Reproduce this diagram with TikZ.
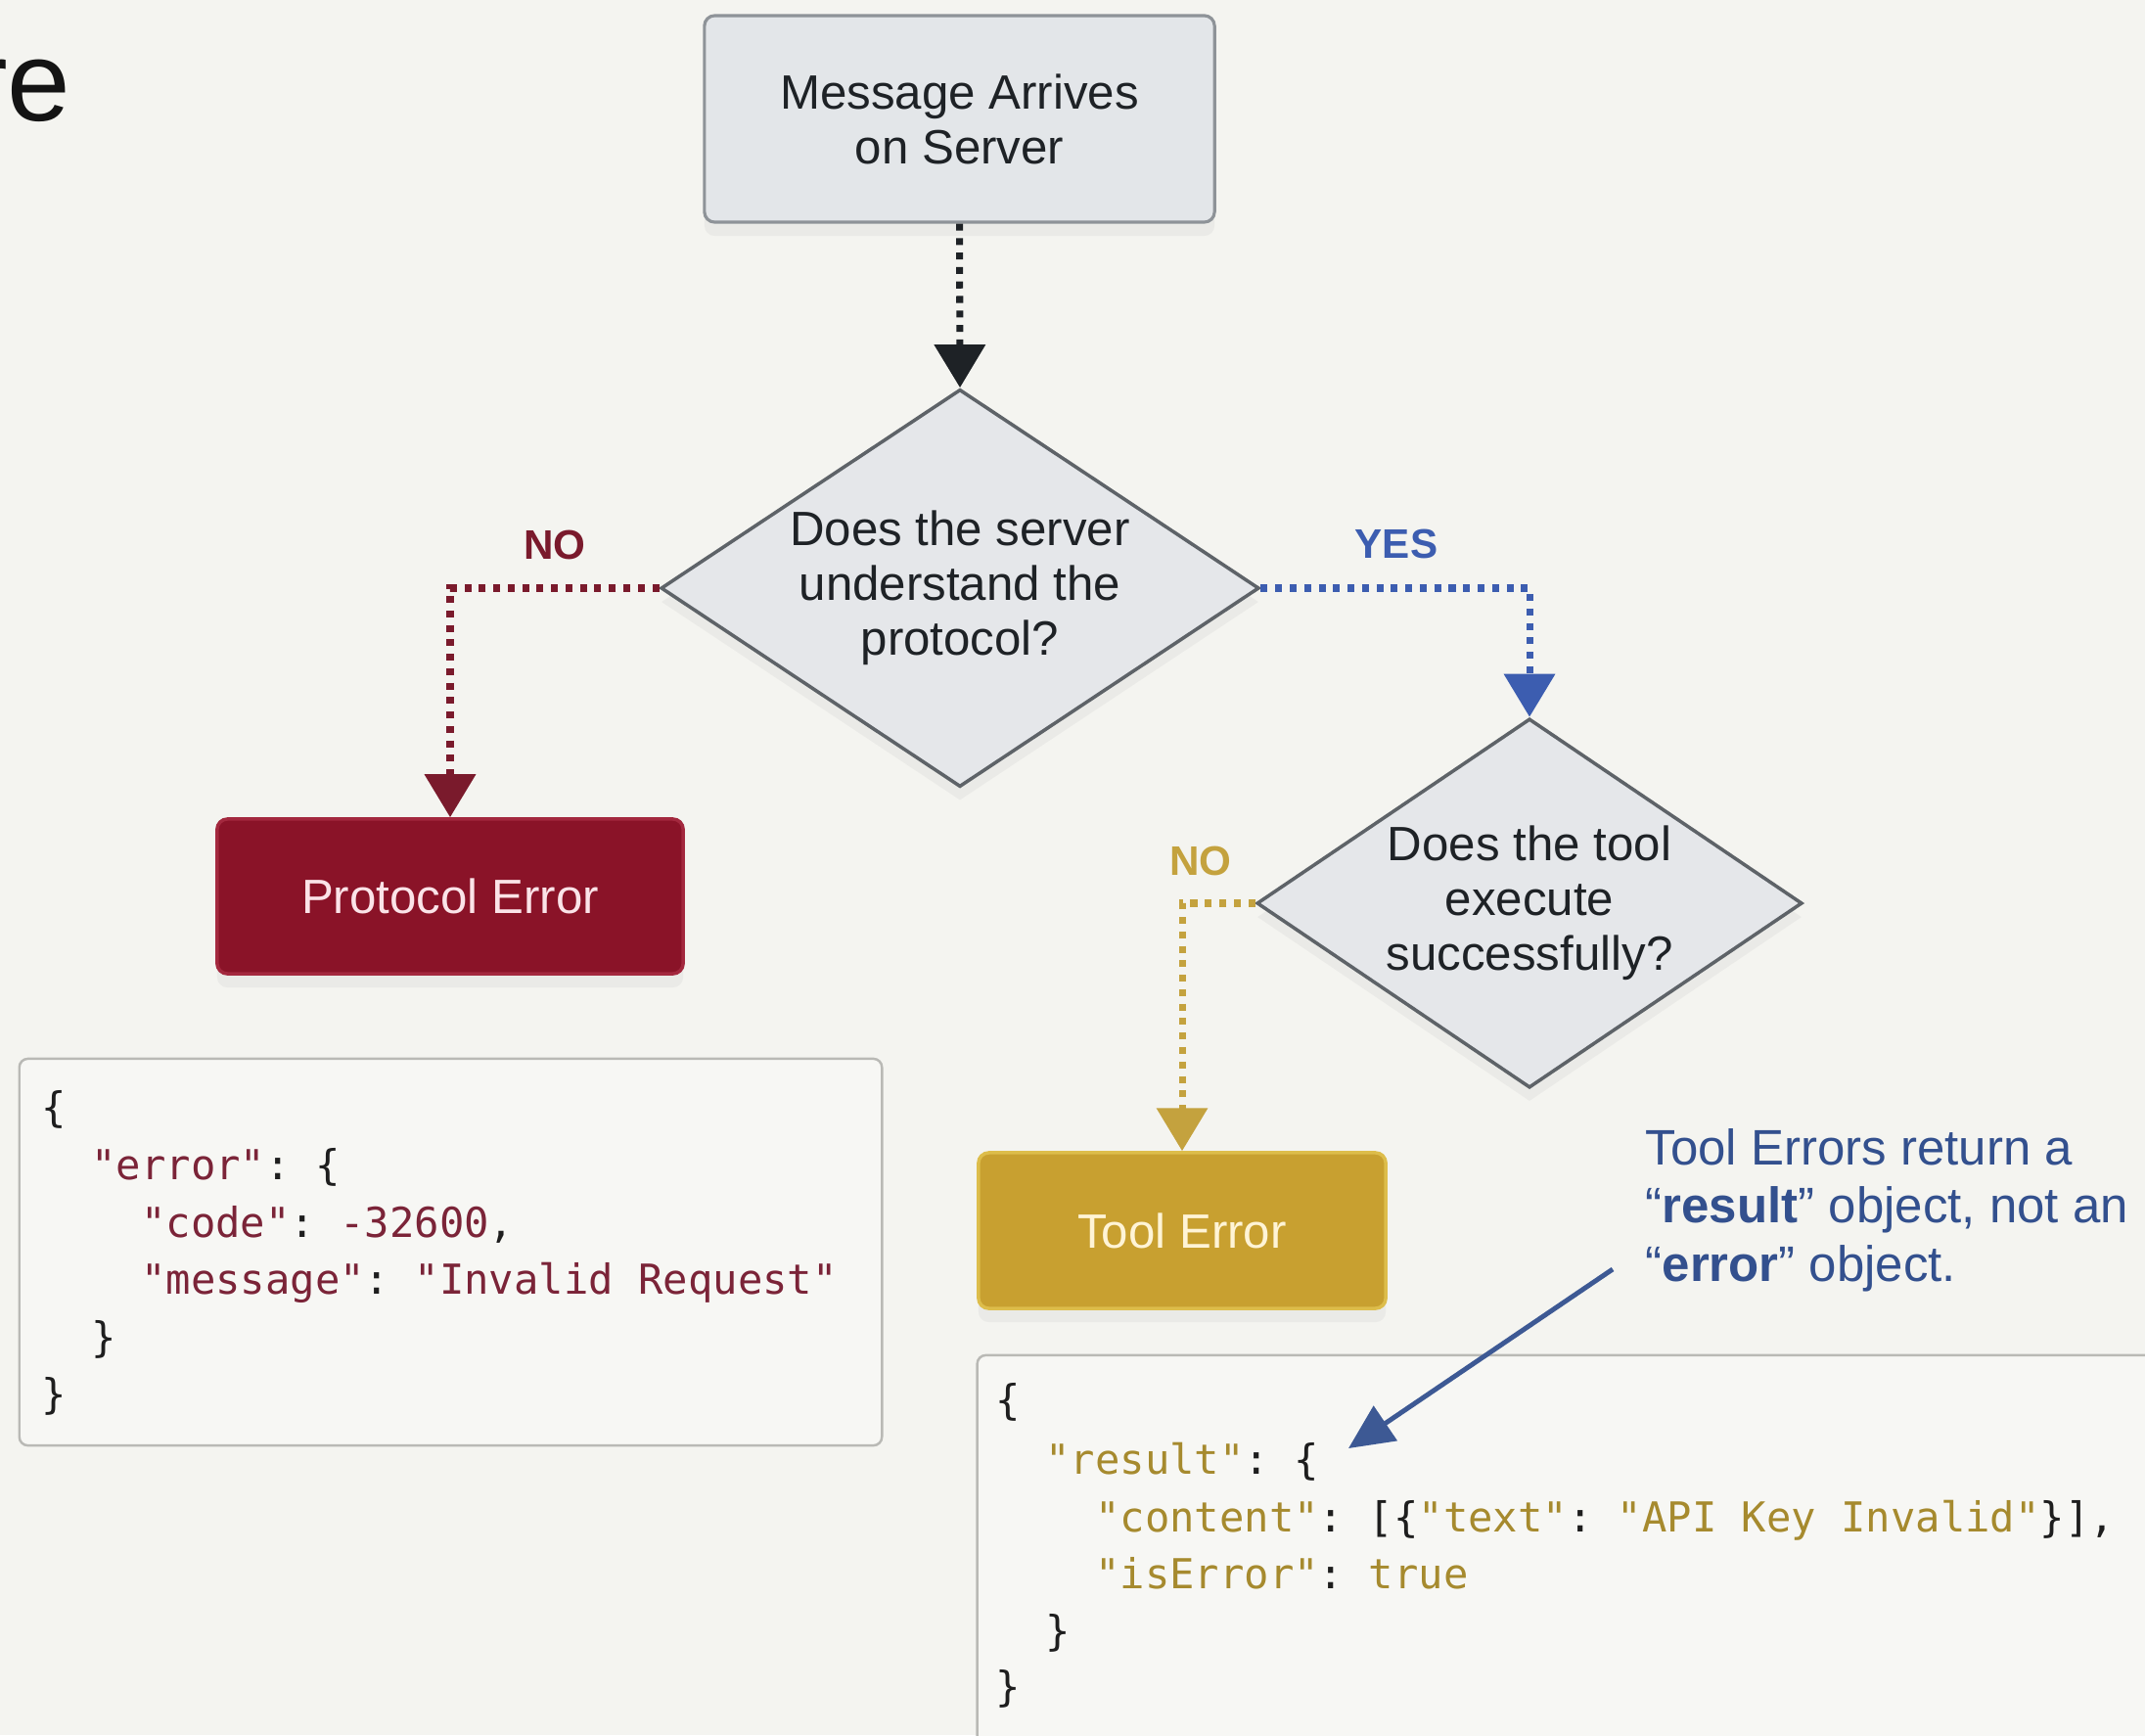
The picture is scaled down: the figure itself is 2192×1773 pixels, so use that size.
\documentclass[tikz,border=0pt]{standalone}
\usepackage{fontspec}
\setmainfont{Liberation Sans}
\setmonofont{DejaVu Sans Mono}
\usetikzlibrary{arrows.meta,shapes.geometric,shadows}

\definecolor{canvas}{HTML}{F4F4F0}
\definecolor{startfill}{HTML}{E3E6E9}
\definecolor{startline}{HTML}{8E9398}
\definecolor{askfill}{HTML}{E5E7EA}
\definecolor{askline}{HTML}{5E6368}
\definecolor{inkdark}{HTML}{1E2226}
\definecolor{protored}{HTML}{8A1328}
\definecolor{protoline}{HTML}{A3283E}
\definecolor{protoarrow}{HTML}{7A1A2C}
\definecolor{prototext}{HTML}{FBE3E8}
\definecolor{yesblue}{HTML}{3C5DB0}
\definecolor{toolgold}{HTML}{C8A030}
\definecolor{toolline}{HTML}{DDBD4B}
\definecolor{tooltext}{HTML}{FFF4D6}
\definecolor{goldarrow}{HTML}{C4A23E}
\definecolor{notecol}{HTML}{33508E}
\definecolor{codebox}{HTML}{F7F7F4}
\definecolor{codeline}{HTML}{B9B9B5}
\definecolor{jsonred}{HTML}{7B2438}
\definecolor{jsongold}{HTML}{A68A2E}
\definecolor{punct}{HTML}{1E1E1E}

\newcommand\jred[1]{\textcolor{jsonred}{#1}}
\newcommand\jgold[1]{\textcolor{jsongold}{#1}}

\tikzset{
  softshadow/.style={drop shadow={shadow xshift=0pt, shadow yshift=-4pt, opacity=0.08}},
  boxtext/.style={font=\fontsize{14}{15.9}\selectfont, align=center, inner sep=0pt},
  startbox/.style={boxtext, rectangle, rounded corners=3pt, fill=startfill,
    draw=startline, line width=0.9pt, text=inkdark, softshadow},
  errbox/.style={boxtext, rectangle, rounded corners=3pt, line width=1pt, softshadow},
  ask/.style={boxtext, diamond, aspect=1.5, fill=askfill, draw=askline,
    line width=1pt, text=inkdark, softshadow},
  flow/.style={line width=2pt, dash pattern=on 2pt off 2.2pt,
    -{Triangle[width=14.5pt,length=12.5pt]}},
  lbl/.style={font=\bfseries\fontsize{12}{14}\selectfont, inner sep=0pt},
  codepanel/.style={rectangle, rounded corners=2.5pt, fill=codebox, draw=codeline, line width=0.7pt},
  codetxt/.style={font=\ttfamily\fontsize{12}{14}\selectfont, anchor=base west,
    inner sep=0pt, text=punct},
  notetxt/.style={font=\fontsize{14.5}{16.6}\selectfont, anchor=base west,
    inner sep=0pt, text=notecol},
}

\begin{document}
\begin{tikzpicture}[x=0.01cm, y=-0.01cm]
  % page
  \fill[canvas] (0,0) rectangle (2192,1773);
  \useasboundingbox (0,0) rectangle (2192,1773);

  % heading fragment at the left edge
  \node[font=\fontsize{33}{36}\selectfont, anchor=base east, inner sep=0pt,
        text=black!92] (heading) at (73,124) {re};

  % code panels (drawn first so connectors sit above them)
  \node[codepanel, minimum width=8.81cm, minimum height=3.95cm] (errpanel) at (460.5,1279.5) {};
  \node[codepanel, minimum width=12.61cm, minimum height=4.55cm] (respanel) at (1629.5,1612.5) {};

  % flow nodes
  \node[startbox, minimum width=5.21cm, minimum height=2.11cm] (arrive) at (980.5,121.5)
    {Message Arrives\\on Server};
  \node[ask, minimum width=6.11cm, minimum height=4.06cm] (proto) at (981,601)
    {Does the server\\understand the\\protocol?};
  \node[errbox, fill=protored, draw=protoline, text=prototext,
        minimum width=4.76cm, minimum height=1.58cm] (perr) at (460,916) {Protocol Error};
  \node[ask, minimum width=5.57cm, minimum height=3.77cm] (exec) at (1563,923)
    {Does the tool\\execute\\successfully?};
  \node[errbox, fill=toolgold, draw=toolline, text=tooltext,
        minimum width=4.16cm, minimum height=1.59cm] (terr) at (1208,1257.5) {Tool Error};

  % connectors
  \draw[flow, color=inkdark] (arrive.south) -- (proto.north);
  \draw[flow, color=protoarrow] (proto.west) -| (perr.north);
  \draw[flow, color=yesblue] (proto.east) -| (exec.north);
  \draw[flow, color=goldarrow] (exec.west) -| (terr.north);

  % branch labels
  \node[lbl, text=protoarrow] (noproto) at (567,557) {NO};
  \node[lbl, text=yesblue] (yesproto) at (1427,556) {YES};
  \node[lbl, text=goldarrow] (notool) at (1227,880) {NO};

  % protocol error payload
  \node[codetxt] (e1) at (42,1146)   {\{};
  \node[codetxt] (e2) at (92.8,1205) {\jred{"error"}: \{};
  \node[codetxt] (e3) at (143.6,1264) {\jred{"code"}: \jred{-32600},};
  \node[codetxt] (e4) at (143.6,1322.5) {\jred{"message"}: \jred{"Invalid Request"}};
  \node[codetxt] (e5) at (92.8,1381) {\}};
  \node[codetxt] (e6) at (42,1439.5) {\}};

  % tool error payload
  \node[codetxt] (r1) at (1017,1445)   {\{};
  \node[codetxt] (r2) at (1067.8,1506) {\jgold{"result"}: \{};
  \node[codetxt] (r3) at (1118.6,1565) {\jgold{"content"}: [\{\jgold{"text"}: \jgold{"API Key Invalid"}\}],};
  \node[codetxt] (r4) at (1118.6,1623.5) {\jgold{"isError"}: \jgold{true}};
  \node[codetxt] (r5) at (1067.8,1681) {\}};
  \node[codetxt] (r6) at (1017,1738.5) {\}};

  % side note with pointer
  \node[notetxt] (note1) at (1681,1190) {Tool Errors return a};
  \node[notetxt] (note2) at (1681,1249.5) {“\textbf{result}” object, not an};
  \node[notetxt] (note3) at (1681,1309) {“\textbf{error}” object.};
  \coordinate (ptrfrom) at (1648,1297);
  \coordinate (ptrto) at (1378,1480);
  \draw[notecol!95!white, line width=1.4pt, -{Triangle[width=12pt,length=13pt]}]
    (ptrfrom) -- (ptrto);
\end{tikzpicture}
\end{document}
